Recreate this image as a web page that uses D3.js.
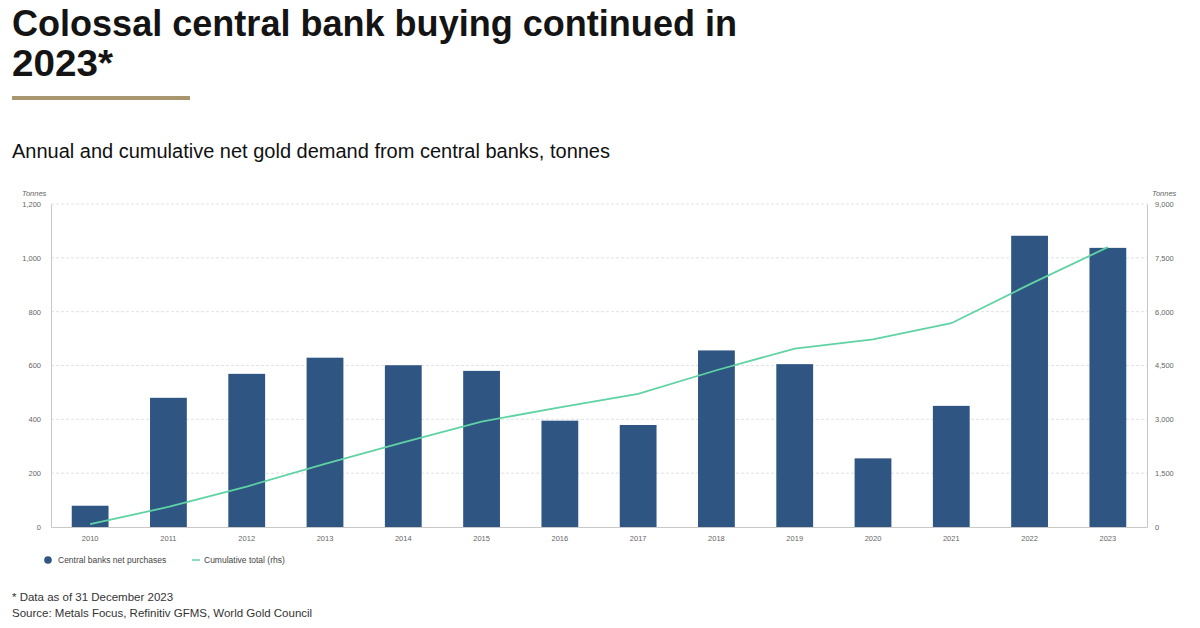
<!DOCTYPE html>
<html>
<head>
<meta charset="utf-8">
<script src="https://cdn.jsdelivr.net/npm/d3@7"></script>
<style>
  body { margin: 0; background: #fff; font-family: "Liberation Sans", Arial, sans-serif; }
  .tick text { font-family: "Liberation Sans", Arial, sans-serif; fill: #666; }
</style>
</head>
<body>
<svg id="chart" width="1200" height="628"></svg>
<script>
// data
const years = ["2010", "2011", "2012", "2013", "2014", "2015", "2016", "2017", "2018", "2019", "2020", "2021", "2022", "2023"];
const netPurchases = [79, 480, 569, 629, 601, 580, 395, 379, 656, 605, 255, 450, 1082, 1037];
const cumulative = [79, 559, 1128, 1757, 2358, 2938, 3333, 3712, 4368, 4973, 5228, 5678, 6760, 7797];
const leftTicks = [0, 200, 400, 600, 800, 1000, 1200];
const rightTicks = [0, 1500, 3000, 4500, 6000, 7500, 9000];

const svg = d3.select("#chart");

// Title block
svg.append("text").attr("x", 12).attr("y", 36)
  .attr("font-size", 36).attr("font-weight", "bold").attr("fill", "#141414")
  .attr("textLength", 725).attr("lengthAdjust", "spacingAndGlyphs")
  .text("Colossal central bank buying continued in");
svg.append("text").attr("x", 12).attr("y", 76)
  .attr("font-size", 36).attr("font-weight", "bold").attr("fill", "#141414")
  .attr("textLength", 101).attr("lengthAdjust", "spacingAndGlyphs")
  .text("2023*");
svg.append("rect").attr("x", 12).attr("y", 96).attr("width", 178).attr("height", 4)
  .attr("fill", "#a8966f");
svg.append("text").attr("x", 12).attr("y", 158)
  .attr("font-size", 20).attr("fill", "#111")
  .attr("textLength", 598).attr("lengthAdjust", "spacingAndGlyphs")
  .text("Annual and cumulative net gold demand from central banks, tonnes");

// plot area
const plot = { left: 51, right: 1147, top: 204, bottom: 527 };

const x = d3.scaleBand().domain(years).range([plot.left, plot.right]).paddingInner(0.53).paddingOuter(0.265);
const y = d3.scaleLinear().domain([0, 1200]).range([plot.bottom, plot.top]);
const y2 = d3.scaleLinear().domain([0, 9000]).range([plot.bottom, plot.top]);

// Grid lines
svg.append("g")
  .selectAll("line")
  .data(leftTicks.filter((d) => d > 0))
  .enter()
  .append("line")
  .attr("x1", plot.left).attr("x2", plot.right)
  .attr("y1", (d) => y(d)).attr("y2", (d) => y(d))
  .attr("stroke", "#e2e2e2")
  .attr("stroke-dasharray", "3,2");

// Axes
const axL = svg.append("g")
  .attr("transform", `translate(${plot.left},0)`)
  .call(d3.axisLeft(y).tickValues(leftTicks).tickSize(0).tickPadding(10).tickFormat(d3.format(",")));
axL.select(".domain").attr("stroke", "#c8c8c8");
axL.selectAll("text").attr("font-size", 7.5);

const axR = svg.append("g")
  .attr("transform", `translate(${plot.right},0)`)
  .call(d3.axisRight(y2).tickValues(rightTicks).tickSize(0).tickPadding(8).tickFormat(d3.format(",")));
axR.select(".domain").attr("stroke", "#c8c8c8");
axR.selectAll("text").attr("font-size", 7.5);

const axB = svg.append("g")
  .attr("transform", `translate(0,${plot.bottom})`)
  .call(d3.axisBottom(x).tickSize(0).tickPadding(9));
axB.select(".domain").attr("stroke", "#c8c8c8");
axB.selectAll("text").attr("font-size", 7.5);

// axis unit labels
svg.append("text").attr("x", 22).attr("y", 196)
  .attr("font-size", 7.5).attr("font-style", "italic").attr("fill", "#666").text("Tonnes");
svg.append("text").attr("x", 1152).attr("y", 196)
  .attr("font-size", 7.5).attr("font-style", "italic").attr("fill", "#666").text("Tonnes");

// Bars
svg.selectAll(".bar")
  .data(years)
  .enter()
  .append("rect")
  .attr("class", "bar")
  .attr("x", (d) => x(d))
  .attr("width", x.bandwidth())
  .attr("y", (d, i) => y(netPurchases[i]))
  .attr("height", (d, i) => plot.bottom - y(netPurchases[i]))
  .attr("fill", "#2f5583");

// Cumulative line (rhs)
const line = d3.line()
  .x((d, i) => x(years[i]) + x.bandwidth() / 2)
  .y((d) => y2(d));
svg.append("path")
  .datum(cumulative)
  .attr("d", line)
  .attr("fill", "none")
  .attr("stroke", "#5fd3a3")
  .attr("stroke-width", 1.8);

// Legend
svg.append("circle").attr("cx", 48).attr("cy", 560).attr("r", 3.8).attr("fill", "#2f5583");
svg.append("text").attr("x", 58).attr("y", 563)
  .attr("font-size", 8.5).attr("fill", "#444").text("Central banks net purchases");
svg.append("line").attr("x1", 192).attr("x2", 200).attr("y1", 560).attr("y2", 560)
  .attr("stroke", "#5fd3a3").attr("stroke-width", 1.5);
svg.append("text").attr("x", 204).attr("y", 563)
  .attr("font-size", 8.5).attr("fill", "#444").text("Cumulative total (rhs)");

// Footnotes
svg.append("text").attr("x", 12).attr("y", 601)
  .attr("font-size", 11.5).attr("fill", "#333").text("* Data as of 31 December 2023");
svg.append("text").attr("x", 12).attr("y", 617)
  .attr("font-size", 11.5).attr("fill", "#333").text("Source: Metals Focus, Refinitiv GFMS, World Gold Council");
</script>
</body>
</html>
